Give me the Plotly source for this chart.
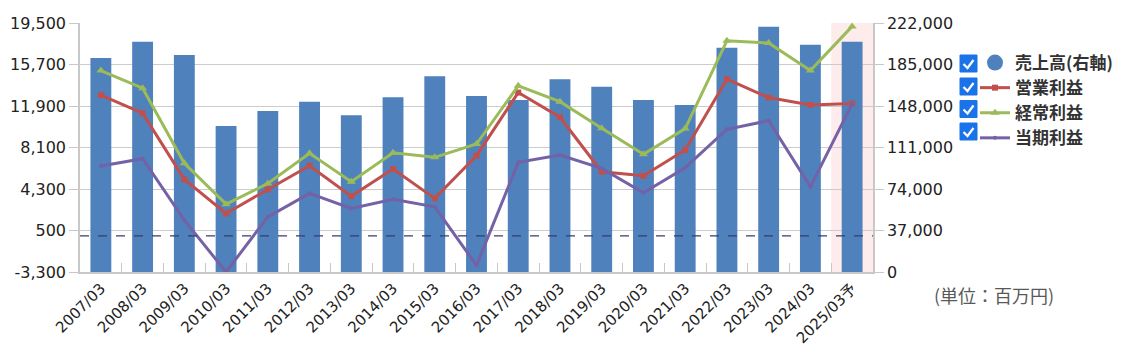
import plotly.graph_objects as go

categories = ["2007/03", "2008/03", "2009/03", "2010/03", "2011/03", "2012/03", "2013/03",
              "2014/03", "2015/03", "2016/03", "2017/03", "2018/03", "2019/03", "2020/03",
              "2021/03", "2022/03", "2023/03", "2024/03", "2025/03予"]
sales = [190700, 205300, 193400, 130200, 143600, 151700, 139800, 155900, 174600, 157000,
         153400, 171900, 165100, 153400, 149000, 199900, 218700, 202600, 205300]
operating = [12900, 11240, 5180, 2060, 4260, 6430, 3650, 6130, 3440, 7350,
             13130, 10870, 5880, 5510, 7870, 14360, 12670, 12000, 12120]
ordinary = [15150, 13530, 6650, 2910, 4810, 7570, 4960, 7620, 7200, 8420,
            13750, 12300, 9860, 7480, 9830, 17880, 17660, 15150, 19190]
net = [6400, 7070, 1450, -3300, 1750, 3900, 2520, 3350, 2670, -2690,
       6740, 7410, 6190, 3950, 6250, 9770, 10560, 4500, 12090]
legend_names = ["売上高(右軸)", "営業利益", "経常利益", "当期利益"]
left_ticks = [-3300, 500, 4300, 8100, 11900, 15700, 19500]
right_ticks = [0, 37000, 74000, 111000, 148000, 185000, 222000]
unit_text = "(単位：百万円)"

OFF = 8  # default page body margin
W, H = 1128 - OFF, 358 - OFF
PL, PR, PT, PB = 80, 873, 23, 272  # plot area in page pixels
L, R, T, B = PL - OFF, W - (PR - OFF), PT - OFF, H - (PB - OFF)
PW, PH = PR - PL, PB - PT

def px(x, y):
    return (x - PL) / PW, (PB - y) / PH

NUMFONT = "DejaVu Sans, Noto Sans CJK JP, sans-serif"
JPFONT = "Noto Sans CJK JP, Noto Sans, sans-serif"
BLUE = "#4f81bd"
RED = "#c0504d"
GREEN = "#9bbb59"
PURPLE = "#7461a6"

n = len(categories)
fig = go.Figure()
fig.add_trace(go.Bar(x=categories, y=sales, marker=dict(color=BLUE, line=dict(width=0)),
                     width=0.5, yaxis="y", showlegend=False, name=legend_names[0]))
fig.add_trace(go.Scatter(x=[categories[0]], y=[None], mode="markers", name=legend_names[0],
                         marker=dict(symbol="circle", size=16, color=BLUE), yaxis="y2"))
fig.add_trace(go.Scatter(x=categories, y=operating, mode="lines+markers", name=legend_names[1],
                         line=dict(color=RED, width=3), marker=dict(symbol="square", size=6, color=RED),
                         yaxis="y2", cliponaxis=False))
fig.add_trace(go.Scatter(x=categories, y=ordinary, mode="lines+markers", name=legend_names[2],
                         line=dict(color=GREEN, width=3), marker=dict(symbol="triangle-up", size=8, color=GREEN),
                         yaxis="y2", cliponaxis=False))
fig.add_trace(go.Scatter(x=categories, y=net, mode="lines+markers", name=legend_names[3],
                         line=dict(color=PURPLE, width=3), marker=dict(symbol="circle", size=4, color=PURPLE),
                         yaxis="y2", cliponaxis=False))

shapes = []
shapes.append(dict(type="rect", xref="x", yref="paper", x0=n - 1.5, x1=n - 0.5,
                   y0=0, y1=1, fillcolor="#fdeceb", line=dict(width=0), layer="below"))
shapes.append(dict(type="line", xref="paper", yref="y2", x0=0, x1=1, y0=0, y1=0,
                   line=dict(color="#3b3b6b", width=1.3, dash="dash")))
for cy in [63.5, 86.5, 109, 131.5]:
    x0, y0 = px(960, cy - 8.5)
    x1, y1 = px(977, cy + 8.5)
    shapes.append(dict(type="rect", xref="paper", yref="paper", x0=x0, x1=x1, y0=y1, y1=y0,
                       fillcolor="#1a73e8", line=dict(color="#1a73e8", width=1)))
    a = px(963.5, cy + 0.5)
    b = px(967.5, cy + 4.5)
    c = px(973.5, cy - 3.5)
    shapes.append(dict(type="path", xref="paper", yref="paper",
                       path=f"M {a[0]},{a[1]} L {b[0]},{b[1]} L {c[0]},{c[1]}",
                       line=dict(color="white", width=2.2)))

ux, uy = px(994, 295)
annotations = [dict(text=unit_text, xref="paper", yref="paper", x=ux, y=uy, showarrow=False,
                    font=dict(family=JPFONT, size=18, color="#595959"), xanchor="center", yanchor="middle")]

lx, ly = px(975, 45)
fig.update_layout(
    width=W, height=H,
    margin=dict(l=L, r=R, t=T, b=B, autoexpand=False),
    paper_bgcolor="white", plot_bgcolor="white",
    font=dict(family=NUMFONT, size=15, color="#222222"),
    shapes=shapes, annotations=annotations,
    bargap=0.5,
    legend=dict(x=lx, y=ly, xanchor="left", yanchor="top", bgcolor="rgba(0,0,0,0)",
                font=dict(family=JPFONT, size=17, color="#333333", weight="bold"),
                tracegroupgap=0, itemwidth=30),
    xaxis=dict(type="category", range=[-0.5, n - 0.5], autorange=False, tickangle=-45,
               showgrid=False, showline=True, linecolor="#c8c8c8",
               linewidth=1.5, ticks="inside", tickson="boundaries", ticklen=9, tickcolor="#c8c8c8",
               tickfont=dict(family=NUMFONT, size=15, color="#222222"), automargin=False),
    yaxis=dict(side="right", range=[0, 222000], tickvals=right_ticks,
               ticktext=[f"{v:,}" for v in right_ticks],
               showgrid=True, gridcolor="#cccccc", gridwidth=1.2, showline=True, linecolor="#c8c8c8",
               linewidth=1.5, ticks="outside", ticklen=9, tickcolor="#c8c8c8", zeroline=False,
               tickfont=dict(family=NUMFONT, size=16, color="#222222"), automargin=False),
    yaxis2=dict(side="left", overlaying="y", range=[-3300, 19500], tickvals=left_ticks,
                ticktext=[f"{v:,}" for v in left_ticks],
                showgrid=False, showline=True, linecolor="#c8c8c8", linewidth=1.5, ticks="outside",
                ticklen=9, tickcolor="#c8c8c8", zeroline=False,
                tickfont=dict(family=NUMFONT, size=16, color="#222222"), automargin=False),
)
fig.write_html("out.html")
